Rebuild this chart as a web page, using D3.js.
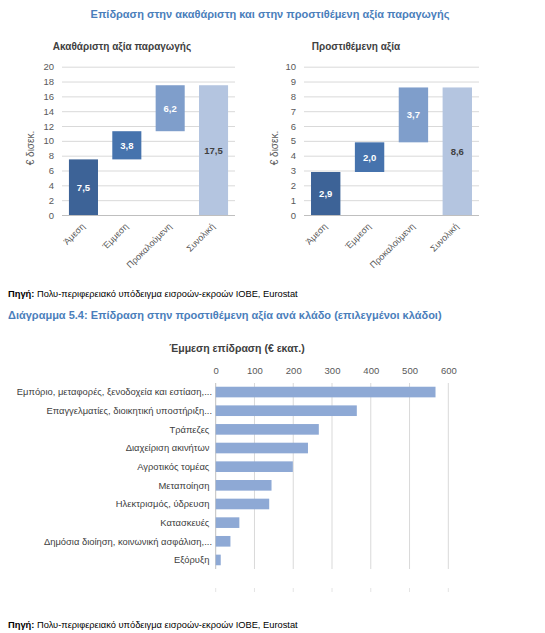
<!DOCTYPE html>
<html><head><meta charset="utf-8">
<script src="https://cdn.jsdelivr.net/npm/d3@7"></script>
<style>
body{margin:0;background:#fff;}
svg{display:block;font-family:"Liberation Sans",Arial,sans-serif;}
</style></head><body>
<svg id="c" width="545" height="633"></svg>
<script>
// ---- data ----
const stageCats = ["Άμεση", "Έμμεση", "Προκαλούμενη", "Συνολική"];
const grossValues = [7.5, 3.8, 6.2, 17.5];
const addedValues = [2.9, 2.0, 3.7, 8.6];
const grossTicks = [0, 2, 4, 6, 8, 10, 12, 14, 16, 18, 20];
const addedTicks = [0, 1, 2, 3, 4, 5, 6, 7, 8, 9, 10];
const sectorCats = [
  "Εμπόριο, μεταφορές, ξενοδοχεία και εστίαση,...",
  "Επαγγελματίες, διοικητική υποστήριξη...",
  "Τράπεζες ",
  "Διαχείριση ακινήτων ",
  "Αγροτικός τομέας ",
  "Μεταποίηση ",
  "Ηλεκτρισμός, ύδρευση ",
  "Κατασκευές ",
  "Δημόσια διοίηση, κοινωνική ασφάλιση,...",
  "Εξόρυξη "
];
const sectorValues = [567, 364, 266, 238, 199, 144, 138, 61, 38, 13];
const sectorTicks = [0, 100, 200, 300, 400, 500, 600];

const stageColors = ["#3d6397", "#4673ad", "#7f9ecb", "#b4c5e0"];
const labelColors = ["#ffffff", "#ffffff", "#ffffff", "#404040"];

const svg = d3.select("#c");

// titles
svg.append("text").attr("x", 270).attr("y", 18).attr("text-anchor", "middle")
  .attr("font-size", 11).attr("font-weight", "bold").attr("fill", "#4a7ebb")
  .text("Επίδραση στην ακαθάριστη και στην προστιθέμενη αξία παραγωγής");

function waterfall(opts) {
  const {values, ticks, x0, x1, title, titleX, yTitleX} = opts;
  const g = svg.append("g");
  const y = d3.scaleLinear().domain([0, ticks[ticks.length - 1]]).range([215, 66.7]);
  const x = d3.scaleBand().domain(stageCats).range([x0, x1]).paddingInner(0.33).paddingOuter(0.16);

  g.append("text").attr("x", titleX).attr("y", 50).attr("text-anchor", "middle")
    .attr("font-size", 10).attr("font-weight", "bold").attr("fill", "#404040").text(title);

  const yAxis = d3.axisLeft(y).tickValues(ticks).tickSize(-(x1 - x0)).tickFormat(d3.format("d"));
  const ga = g.append("g").attr("transform", `translate(${x0},0)`).call(yAxis);
  ga.select(".domain").remove();
  ga.selectAll(".tick line").attr("stroke", d => d === 0 ? "#bfbfbf" : "#d9d9d9");
  ga.selectAll(".tick text").attr("x", -8).attr("fill", "#595959").attr("font-size", 9.5)
    .attr("font-family", "Liberation Sans, Arial, sans-serif");

  g.append("text").attr("transform", `translate(${yTitleX},148) rotate(-90)`)
    .attr("text-anchor", "middle").attr("font-size", 10).attr("fill", "#595959").text("€ δισεκ.");

  // waterfall stacks
  let cum = 0;
  const segs = values.map((v, i) => {
    let lo, hi;
    if (i === values.length - 1) { lo = 0; hi = v; }
    else { lo = cum; hi = cum + v; cum = hi; }
    return {cat: stageCats[i], v, lo, hi, i};
  });
  g.selectAll("rect.b").data(segs).join("rect").attr("class", "b")
    .attr("x", d => x(d.cat)).attr("width", x.bandwidth())
    .attr("y", d => y(d.hi)).attr("height", d => y(d.lo) - y(d.hi))
    .attr("fill", d => stageColors[d.i]);
  g.selectAll("text.v").data(segs).join("text").attr("class", "v")
    .attr("x", d => x(d.cat) + x.bandwidth() / 2).attr("y", d => (y(d.lo) + y(d.hi)) / 2 + 3.5)
    .attr("text-anchor", "middle").attr("font-size", 9.5).attr("font-weight", "bold")
    .attr("fill", d => labelColors[d.i]).text(d => d3.format(".1f")(d.v).replace(".", ","));

  g.selectAll("text.cat").data(stageCats).join("text").attr("class", "cat")
    .attr("transform", d => `translate(${x(d) + x.bandwidth() / 2 + 2},${227}) rotate(-45)`)
    .attr("text-anchor", "end").attr("font-size", 9).attr("fill", "#595959").text(d => d);
}

waterfall({values: grossValues, ticks: grossTicks, x0: 62, x1: 235,
  title: "Ακαθάριστη αξία παραγωγής", titleX: 122, yTitleX: 34});
waterfall({values: addedValues, ticks: addedTicks, x0: 304, x1: 479,
  title: "Προστιθέμενη αξία", titleX: 356, yTitleX: 278});

// sources
function source(yPos) {
  const t = svg.append("text").attr("x", 8).attr("y", yPos).attr("font-size", 9.3).attr("fill", "#000");
  t.append("tspan").attr("font-weight", "bold").text("Πηγή:");
  t.append("tspan").text(" Πολυ-περιφερειακό υπόδειγμα εισροών-εκροών ΙΟΒΕ, Eurostat");
}
source(297);
source(628);

svg.append("text").attr("x", 8).attr("y", 319).attr("font-size", 11).attr("font-weight", "bold")
  .attr("fill", "#4a7ebb").text("Διάγραμμα 5.4: Επίδραση στην προστιθέμενη αξία ανά κλάδο (επιλεγμένοι κλάδοι)");

// horizontal bar chart
{
  const g = svg.append("g");
  const x = d3.scaleLinear().domain([0, 600]).range([215.7, 448.3]);
  const y = d3.scaleBand().domain(sectorCats).range([383, 569]).paddingInner(0.43).paddingOuter(0.2);

  g.append("text").attr("x", 237).attr("y", 352).attr("text-anchor", "middle")
    .attr("font-size", 10.5).attr("font-weight", "bold").attr("fill", "#404040").text("Έμμεση επίδραση (€ εκατ.)");

  const ax = d3.axisTop(x).tickValues(sectorTicks).tickSize(0).tickFormat(d3.format("d"));
  const ga = g.append("g").attr("transform", "translate(0,374)").call(ax);
  ga.select(".domain").remove();
  ga.selectAll(".tick text").attr("y", 0).attr("dy", 0).attr("fill", "#595959").attr("font-size", 9.5)
    .attr("font-family", "Liberation Sans, Arial, sans-serif");

  g.selectAll("line.grid").data(sectorTicks).join("line").attr("class", "grid")
    .attr("x1", d => x(d)).attr("x2", d => x(d)).attr("y1", 383).attr("y2", 569)
    .attr("stroke", d => d === 0 ? "#bfbfbf" : "#d9d9d9");
  g.selectAll("line.faint").data(sectorTicks).join("line").attr("class", "faint")
    .attr("x1", d => x(d)).attr("x2", d => x(d)).attr("y1", 588).attr("y2", 592)
    .attr("stroke", "#e4e4e4");

  g.selectAll("rect").data(sectorValues).join("rect")
    .attr("x", x(0)).attr("y", (d, i) => y(sectorCats[i])).attr("height", y.bandwidth())
    .attr("width", d => x(d) - x(0)).attr("fill", "#8ea9d5");

  g.selectAll("text.lab").data(sectorCats).join("text").attr("class", "lab")
    .attr("x", 212).attr("y", d => y(d) + y.bandwidth() / 2 + 3.3).attr("text-anchor", "end")
    .attr("xml:space", "preserve").style("white-space", "pre")
    .attr("font-size", 9.4).attr("fill", "#404040").text(d => d);
}
</script>
</body></html>
